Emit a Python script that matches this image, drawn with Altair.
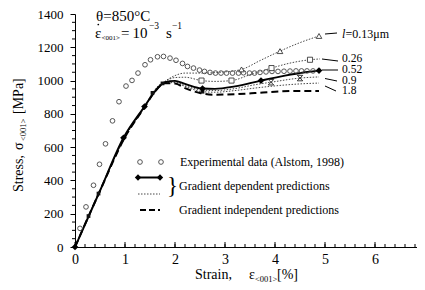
import altair as alt
import pandas as pd
import numpy as np

FONT = "Liberation Serif"
W, H = 342, 233          # plot area (right edge stops at the window edge)
OX, OY = 75, 14          # page position of plot-area origin
SVG_H = 274              # total chart height
X_MAX = 6.84             # strain visible at the window's right edge (50 px per %)

# ---------------- data ----------------
exp_strain = [0.1, 0.22, 0.37, 0.49, 0.61, 0.75, 0.88, 1.02, 1.14, 1.26, 1.4, 1.51, 1.65, 1.77,
              1.9, 2.02, 2.15, 2.25, 2.37, 2.49, 2.59, 2.7, 2.81, 2.92, 3.03, 3.15, 3.27, 3.37,
              3.49, 3.59, 3.7, 3.82, 3.94, 4.06, 4.18, 4.3, 4.42, 4.53, 4.64, 4.76]
exp_stress = [112, 241, 371, 497, 620, 758, 873, 967, 1001, 1045, 1095, 1125, 1143, 1145,
              1135, 1122, 1103, 1085, 1075, 1063, 1055, 1049, 1045, 1045, 1045, 1045, 1045, 1047,
              1045, 1045, 1049, 1052, 1055, 1055, 1056, 1057, 1058, 1058, 1058, 1058]

l013_strain = [0, 0.5, 1.0, 1.4, 1.6, 1.8, 2.0, 2.2, 2.55, 2.9, 3.33, 3.7, 4.1, 4.5, 4.88]
l013_stress = [0, 338, 660, 844, 935, 995, 1030, 1045, 1045, 1050, 1067, 1120, 1177, 1228, 1268]
l013_mk_strain = [3.33, 4.1, 4.88]
l013_mk_stress = [1067, 1177, 1268]

l026_strain = [0, 0.5, 1.0, 1.4, 1.6, 1.8, 2.0, 2.2, 2.53, 2.8, 3.13, 3.5, 3.93, 4.3, 4.7, 4.9]
l026_stress = [0, 338, 660, 844, 935, 993, 1018, 1020, 1000, 995, 1000, 1035, 1075, 1105, 1125, 1130]
l026_mk_strain = [2.53, 3.13, 3.93, 4.7]
l026_mk_stress = [1000, 1000, 1075, 1125]

l052_strain = [0, 0.5, 0.97, 1.39, 1.6, 1.8, 2.0, 2.2, 2.55, 2.8, 3.2, 3.72, 4.2, 4.6, 4.88]
l052_stress = [0, 338, 656, 844, 935, 990, 998, 980, 952, 950, 965, 1000, 1030, 1050, 1060]
l052_mk_strain = [0, 0.97, 1.39, 2.55, 3.72, 4.88]
l052_mk_stress = [0, 656, 844, 952, 1000, 1060]

l09_strain = [0, 0.5, 1.0, 1.4, 1.6, 1.8, 2.0, 2.2, 2.5, 2.8, 3.2, 3.6, 3.92, 4.5, 4.88]
l09_stress = [0, 338, 660, 844, 935, 988, 992, 970, 945, 940, 952, 975, 990, 1015, 1022]
l09_mk_strain = [3.92, 4.5]
l09_mk_stress = [990, 1015]

l18_strain = [0, 0.27, 0.47, 1.0, 1.4, 1.55, 1.75, 2.0, 2.2, 2.55, 2.8, 3.2, 3.6, 4.0, 4.5, 4.88]
l18_stress = [0, 186, 321, 660, 844, 926, 983, 988, 965, 933, 930, 940, 955, 968, 980, 985]
l18_mk_strain = [0.27, 0.47, 1.55, 1.75, 2.55]
l18_mk_stress = [186, 321, 926, 983, 933]

ind_strain = [0, 0.5, 1.0, 1.4, 1.6, 1.8, 2.0, 2.2, 2.5, 2.8, 3.2, 3.6, 4.0, 4.5, 4.88]
ind_stress = [0, 338, 660, 844, 935, 984, 982, 955, 925, 915, 918, 925, 933, 938, 938]

x_ticks = [0, 1, 2, 3, 4, 5, 6]
y_ticks = list(range(0, 1401, 200))

# ---------------- scales / axes ----------------
xs = alt.Scale(domain=[0, X_MAX], nice=False, zero=False)
ys = alt.Scale(domain=[0, 1400], nice=False, zero=False)
x_axis = alt.Axis(values=x_ticks, ticks=False, labelFont=FONT, labelFontSize=14, labelColor="black",
                  labelPadding=5, labelFlush=False, labelOverlap=False, domainColor="black",
                  domainWidth=1, grid=False, title=None, format="d")
y_axis = alt.Axis(values=y_ticks, tickSize=5, tickColor="black", tickWidth=1, labelFont=FONT,
                  labelFontSize=13, labelColor="black", labelPadding=7, labelFlush=False,
                  labelOverlap=False, domainColor="black", domainWidth=1, grid=False, title=None,
                  format="d")
X = alt.X("strain:Q", scale=xs, axis=x_axis)
Y = alt.Y("stress:Q", scale=ys, axis=y_axis)


def df(sx, sy):
    return pd.DataFrame({"strain": sx, "stress": sy})


one = pd.DataFrame({"d": [0]})


def px(v):
    return v - OX


def py(v):
    return v - OY


def text(t, x, y, size=14, align="left", angle=0, style="normal", baseline="middle"):
    return alt.Chart(one).mark_text(text=t, font=FONT, fontSize=size, align=align, angle=angle,
                                    fontStyle=style, baseline=baseline, color="black").encode(
        x=alt.value(px(x)), y=alt.value(py(y)))


def seg(x1, y1, x2, y2, width=1.0, dash=None, color="black"):
    kw = dict(color=color, strokeWidth=width)
    if dash:
        kw["strokeDash"] = dash
    return alt.Chart(one).mark_rule(**kw).encode(
        x=alt.value(px(x1)), x2=alt.value(px(x2)), y=alt.value(py(y1)), y2=alt.value(py(y2)))


def sym(x, y, shape, size, filled, stroke="black", sw=0.9, fill="white"):
    if filled:
        m = alt.Chart(one).mark_point(shape=shape, size=size, filled=True, color=stroke, opacity=1)
    else:
        m = alt.Chart(one).mark_point(shape=shape, size=size, filled=True, fill=fill, stroke=stroke,
                                      strokeWidth=sw, opacity=1)
    return m.encode(x=alt.value(px(x)), y=alt.value(py(y)))


layers = []

# minor / major ticks (x ticks point inward, y minor ticks outward)
x_minor = pd.DataFrame({"strain": np.round(np.arange(0, X_MAX, 0.2), 2)})
layers.append(alt.Chart(x_minor).mark_rule(color="black", strokeWidth=1).encode(
    x=X, y=alt.value(H), y2=alt.value(H - 3)))
layers.append(alt.Chart(pd.DataFrame({"strain": x_ticks})).mark_rule(color="black", strokeWidth=1).encode(
    x=X, y=alt.value(H), y2=alt.value(H - 5)))
y_minor = pd.DataFrame({"stress": [v for v in range(0, 1401, 50) if v % 200]})
layers.append(alt.Chart(y_minor).mark_rule(color="black", strokeWidth=1).encode(
    y=Y, x=alt.value(-3), x2=alt.value(0)))

# prediction curves
dot = [1.5, 1.5]
for sx, sy in [(l013_strain, l013_stress), (l026_strain, l026_stress), (l09_strain, l09_stress),
               (l18_strain, l18_stress)]:
    layers.append(alt.Chart(df(sx, sy)).mark_line(interpolate="monotone", color="#333",
                                                  strokeWidth=0.9, strokeDash=dot).encode(x=X, y=Y))
layers.append(alt.Chart(df(ind_strain, ind_stress)).mark_line(
    interpolate="monotone", color="black", strokeWidth=2, strokeDash=[7, 4]).encode(x=X, y=Y))
layers.append(alt.Chart(df(l052_strain, l052_stress)).mark_line(
    interpolate="monotone", color="black", strokeWidth=1.9).encode(x=X, y=Y))

# experimental circles
layers.append(alt.Chart(df(exp_strain, exp_stress)).mark_point(
    shape="circle", size=22, filled=False, color="#444", strokeWidth=0.9, opacity=1).encode(x=X, y=Y))

# markers
layers.append(alt.Chart(df(l013_mk_strain, l013_mk_stress)).mark_point(
    shape="triangle-up", size=32, filled=True, fill="white", stroke="#222", strokeWidth=0.8,
    opacity=1).encode(x=X, y=Y))
layers.append(alt.Chart(df(l026_mk_strain, l026_mk_stress)).mark_point(
    shape="square", size=26, filled=True, fill="white", stroke="#222", strokeWidth=0.8,
    opacity=1).encode(x=X, y=Y))
layers.append(alt.Chart(df(l09_mk_strain, l09_mk_stress)).mark_point(
    shape="M-1,-1L1,-1L-1,1L1,1Z", size=30, filled=True, fill="white", stroke="#222",
    strokeWidth=0.9, opacity=1).encode(x=X, y=Y))
layers.append(alt.Chart(df(l18_mk_strain, l18_mk_stress)).mark_point(
    shape="square", size=14, filled=True, color="#111", opacity=1).encode(x=X, y=Y))
layers.append(alt.Chart(df(l052_mk_strain, l052_mk_stress)).mark_point(
    shape="diamond", size=45, filled=True, color="black", opacity=1).encode(x=X, y=Y))

# ---------------- annotations ----------------
layers += [
    text("\u03b8=850\u00b0C", 96, 15.5, size=15),
    text("\u03b5", 95, 33, size=15),
    sym(98.3, 24.5, "circle", 3, True),
    text("<001>", 101.5, 37.5, size=7),
    text("=", 121, 33, size=15),
    text("10", 132.5, 33, size=15),
    text("\u22123", 149, 26, size=9.5),
    text("s", 166, 33, size=15),
    text("\u22121", 172, 26, size=9.5),
]
# right-hand labels and leaders
layers += [
    text("l", 342, 34, size=12, style="italic"),
    text("=0.13\u03bcm", 345.5, 34, size=12),
    text("0.26", 342, 59, size=11.5),
    text("0.52", 342, 70, size=11.5),
    text("0.9", 342, 80.5, size=11.5),
    text("1.8", 342, 91, size=11.5),
    seg(325, 34, 337, 33),
    seg(322, 59, 338, 61),
    seg(322, 70, 338, 70),
    seg(325, 78.5, 337, 81),
    seg(325, 86, 336, 91),
]
# legend
layers += [
    sym(140, 162, "circle", 22, False, stroke="#444"),
    sym(161, 162, "circle", 22, False, stroke="#444"),
    text("Experimental data (Alstom, 1998)", 180, 162, size=12),
    seg(138, 177.5, 160, 177.5, width=2),
    sym(138, 177.5, "diamond", 40, True),
    sym(160, 177.5, "diamond", 40, True),
    text("}", 167, 185.5, size=23),
    text("Gradient dependent predictions", 179, 186, size=12),
    seg(138, 194, 160, 194, width=0.9, dash=[1.5, 1.5], color="#333"),
    seg(140, 210, 160, 210, width=2, dash=[6, 3]),
    text("Gradient independent predictions", 179, 210, size=12),
]
# axis titles (composed, with subscripts)
layers += [
    text("Strain,", 195, 275),
    text("\u03b5", 249, 275),
    text("<001>", 255, 278.5, size=8.5),
    text("[%]", 277, 275),
    text("Stress,", 19, 192, angle=270),
    text("\u03c3", 19, 150, angle=270),
    text("<001>", 23, 141, size=8.5, angle=270),
    text("[MPa]", 19, 114, angle=270),
]

chart = alt.layer(*layers).properties(
    width=W, height=H,
    autosize=alt.AutoSizeParams(type="none"),
    padding={"left": OX - 8, "top": OY - 8, "right": 0, "bottom": SVG_H - (OY - 8) - H},
).configure_view(strokeWidth=0)

chart.save("out.html", embed_options={"renderer": "svg", "actions": False})
